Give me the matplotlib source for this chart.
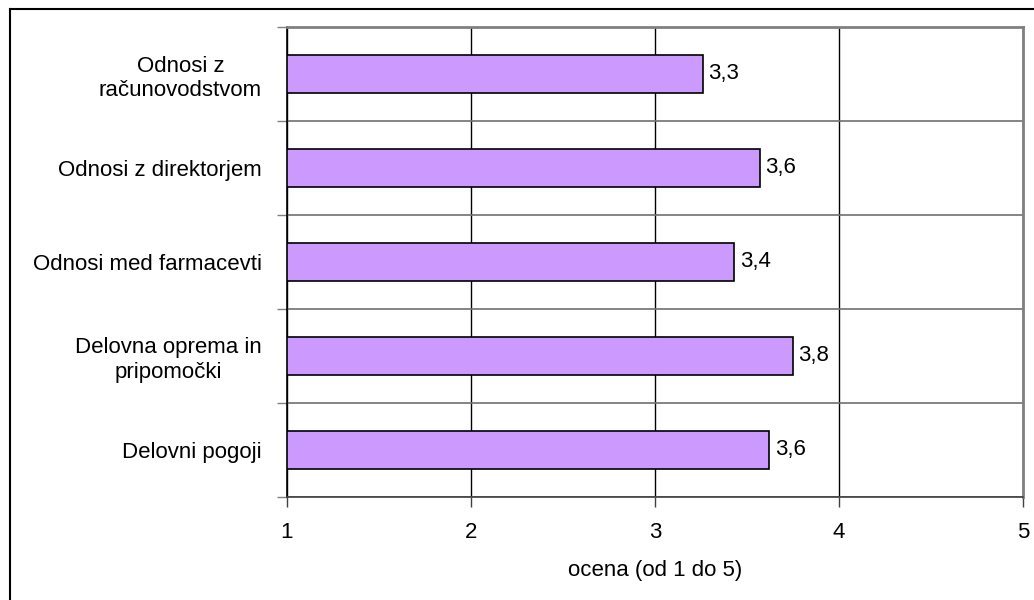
import matplotlib.pyplot as plt
from matplotlib.lines import Line2D

# categories top to bottom, mean score (1-5)
categories = ["Odnosi z\nračunovodstvom", "Odnosi z direktorjem",
              "Odnosi med farmacevti", "Delovna oprema in\npripomočki",
              "Delovni pogoji"]
scores = [3.26, 3.57, 3.43, 3.75, 3.62]
xticks = [1, 2, 3, 4, 5]

plt.rcParams['font.family'] = ['Liberation Sans', 'DejaVu Sans']
fs = 16

fig = plt.figure(figsize=(10.34, 6), dpi=100)
ax = fig.add_axes([287/1034, 1 - 497/600, (1023 - 287)/1034, (497 - 27)/600])

ypos = list(range(len(categories)))
ax.barh(ypos, [s - 1 for s in scores], left=1, height=0.4,
        color='#CC99FF', edgecolor='black', linewidth=1.2, zorder=3)

for y, s in zip(ypos, scores):
    ax.annotate(f"{s:.1f}".replace('.', ','), (s, y), xytext=(4, 0),
                textcoords='offset points', va='center', ha='left', fontsize=fs)

ax.set_xlim(1, 5)
ax.set_ylim(len(categories) - 0.5, -0.5)
ax.set_xticks(xticks)
ax.set_xticklabels([str(t) for t in xticks], fontsize=fs)

# category labels between tick marks, ticks on the boundaries
ax.set_yticks([i - 0.5 for i in range(len(categories) + 1)])
ax.set_yticklabels([])
ax.set_yticks(ypos, minor=True)
ax.set_yticklabels(categories, minor=True, fontsize=fs, multialignment='center')
ax.tick_params(axis='y', which='minor', length=0, pad=18)
ax.tick_params(axis='y', which='major', length=7, width=1, color='#808080')
ax.tick_params(axis='x', length=7, width=1, pad=11, color='#404040')

ax.grid(axis='x', color='black', linewidth=1, zorder=1)
ax.grid(axis='y', which='major', color='#707070', linewidth=1.2, zorder=1)

for side in ['top', 'right']:
    ax.spines[side].set_color('#808080')
    ax.spines[side].set_linewidth(2)
ax.spines['left'].set_color('black')
ax.spines['left'].set_linewidth(1.2)
ax.spines['bottom'].set_color('#404040')
ax.spines['bottom'].set_linewidth(1.2)

ax.set_xlabel("ocena (od 1 do 5)", fontsize=fs, labelpad=12)

# outer frame of the chart
fig.add_artist(Line2D([9.5/1034, 9.5/1034], [0, 1 - 9/600], color='black',
                      linewidth=1.5, transform=fig.transFigure))
fig.add_artist(Line2D([9.5/1034, 1], [1 - 9/600, 1 - 9/600], color='black',
                      linewidth=1.5, transform=fig.transFigure))

fig.savefig("out.png", dpi=100)
